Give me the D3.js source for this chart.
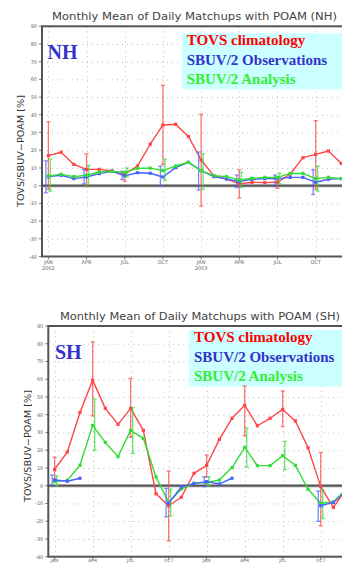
<!DOCTYPE html>
<html><head><meta charset="utf-8">
<script src="https://cdn.jsdelivr.net/npm/d3@7"></script>
<style>body{margin:0;background:#fff;overflow:hidden}svg{display:block}</style>
</head><body>
<script>
// ---- data ----
const months = d3.range(24); // Jan 2002 .. Dec 2003
const xTickMonths = [0,3,6,9,12,15,18,21];
const xTickLabels = ["JAN|2002","APR","JUL","OCT","JAN|2003","APR","JUL","OCT"];
const yTicks = [90,80,70,60,50,40,30,20,10,0,-10,-20,-30,-40];
const legendLabels = ["TOVS climatology","SBUV/2 Observations","SBUV/2 Analysis"];

// NH
const nhTovs = [17,18.9,12,9.2,9.2,8.3,6.5,11,23.4,34.3,34.7,27.8,14.5,5.7,3.8,1,1.9,1.7,1.9,6.6,15.8,17.7,19.6,12.6];
const nhObs  = [5.1,5.9,4,4.9,6.8,8.1,5.5,7.3,7,4.9,10.2,13.2,8.5,5.1,3.8,2.3,3.6,4,4,4.7,4.7,1.9,3.6,4];
const nhAna  = [5.5,6.4,5.1,5.9,7.7,8.1,7.5,9.8,9.9,8.5,11.1,13.2,8.5,5.7,5.1,3.2,4.2,4.7,4.7,6.9,6.9,4,4.7,4];
const errMonths = [0,3,6,9,12,15,18,21];
const nhTovsLo = [-2,0,2.5,12,-11.5,-7,-1.5,-2];
const nhTovsHi = [36,18,8,56.7,40.3,9,5,36.7];
const nhObsLo  = [-4,1,3.5,0,-2.5,-1,-0.5,-5];
const nhObsHi  = [14,9,8,11,19,6,6,9];
const nhAnaLo  = [-3,0.5,5,3,-2,-1,1,-3];
const nhAnaHi  = [15,11.5,10,15,18,7.5,7,11];

// SH
const shTovs = [9.2,19,41.3,59.5,43.6,34.6,43.6,31.2,-4.5,-11.3,-6.5,7,11.5,26.1,38,45.3,33.8,38,43,36.5,21.4,-0.5,-12.2,-2];
const shObs  = [3.2,2.5,4.2,null,null,null,null,null,null,-9.9,-0.7,1.3,2.3,1,4.2,null,null,null,null,null,null,-11.3,-9.4,-3];
const shAna  = [2.3,3,11.5,34,24.4,16.4,31.2,26.7,4.9,-9.4,-1.9,1.3,1.9,3.2,10.2,21.6,11.3,11.3,16.9,11.5,-2,-9.9,-9.2,-2];
const shTovsLo = [4,39.4,27.3,-31,5,28.2,33.3,-22.5];
const shTovsHi = [16,81,60.5,8.3,17.3,56.2,53.4,18.6];
const shObsLo  = [0,null,null,-17.5,-0.5,null,null,-20];
const shObsHi  = [6,null,null,-1.5,5,null,null,-3];
const shAnaLo  = [0,20,18.2,-17,0,10.5,9,-18.5];
const shAnaHi  = [5.5,48.8,44,-2,5,32.5,25,-2.5];

const W = 342, H = 563;
const svg = d3.select("body").append("svg").attr("width",W).attr("height",H);

const lineCol = {tovs:"#ff4545", obs:"#4a62ff", ana:"#33dd33"};
const textCol = ["#ff0000","#3333cc","#33ee33"];

function panel(cfg){
  const g = svg.append("g");
  const x = d3.scaleLinear().domain([-0.5,23.5]).range([cfg.left, cfg.right]);
  const y = d3.scaleLinear().domain([-40,90]).range([cfg.bottom, cfg.top]);
  const clipId = "clip"+cfg.name;
  svg.append("clipPath").attr("id",clipId).append("rect")
    .attr("x",cfg.left).attr("y",cfg.top).attr("width",cfg.right-cfg.left).attr("height",cfg.bottom-cfg.top);

  // title
  g.append("text").attr("x",cfg.titleX).attr("y",cfg.titleY)
    .attr("font-family","DejaVu Sans").attr("font-size",10).attr("fill","#444")
    .attr("textLength",cfg.titleW).attr("lengthAdjust","spacingAndGlyphs")
    .text(`Monthly Mean of Daily Matchups with POAM (${cfg.name})`);

  // grid
  const grid = g.append("g").attr("stroke","#c0c0c0").attr("stroke-width",1).attr("stroke-dasharray","1,4");
  grid.selectAll("line.h").data(yTicks.filter(d=>d!==90&&d!==-40&&d!==0)).join("line")
    .attr("x1",cfg.left).attr("x2",cfg.right).attr("y1",d=>y(d)+0.5).attr("y2",d=>y(d)+0.5);
  grid.selectAll("line.v").data(xTickMonths).join("line")
    .attr("x1",d=>Math.round(x(d))+0.5).attr("x2",d=>Math.round(x(d))+0.5).attr("y1",cfg.top).attr("y2",cfg.bottom);

  // y axis ticks & labels
  const ya = g.append("g");
  ya.selectAll("text").data(yTicks).join("text")
    .attr("x",cfg.left-5).attr("y",d=>y(d)+2).attr("text-anchor","end")
    .attr("font-family","DejaVu Sans").attr("font-size",5).attr("fill","#666")
    .text(d=>d);
  ya.selectAll("line").data(yTicks).join("line")
    .attr("x1",cfg.left-3).attr("x2",cfg.left).attr("y1",d=>y(d)).attr("y2",d=>y(d))
    .attr("stroke","#777").attr("stroke-width",1);

  // x labels
  const xa = g.append("g");
  xTickMonths.forEach((m,i)=>{
    const parts = xTickLabels[i].split("|").slice(0, cfg.yearLines ? 2 : 1);
    parts.forEach((p,j)=>{
      xa.append("text").attr("x",x(m)).attr("y",cfg.bottom+cfg.xlabDy+j*6).attr("text-anchor","middle")
        .attr("font-family","DejaVu Sans").attr("font-size",cfg.xlabFs).attr("fill","#666").text(p);
    });
    xa.append("line").attr("x1",x(m)).attr("x2",x(m)).attr("y1",cfg.bottom).attr("y2",cfg.bottom+3)
      .attr("stroke","#777");
  });

  // y label
  g.append("text").attr("transform",`translate(${cfg.ylabX},${cfg.ylabY}) rotate(-90)`)
    .attr("text-anchor","middle").attr("font-family","DejaVu Sans").attr("font-size",9).attr("fill","#333")
    .attr("textLength",112).attr("lengthAdjust","spacingAndGlyphs")
    .text("TOVS/SBUV\u2212POAM [%]");

  // zero line
  g.append("line").attr("x1",cfg.left).attr("x2",cfg.right).attr("y1",y(0)).attr("y2",y(0))
    .attr("stroke","#888").attr("stroke-width",3);
  g.append("line").attr("x1",cfg.left).attr("x2",cfg.right).attr("y1",y(0)).attr("y2",y(0))
    .attr("stroke","#555").attr("stroke-width",1.2);

  // legend box
  g.append("rect").attr("x",cfg.legX).attr("y",cfg.legY).attr("width",W-cfg.legX).attr("height",cfg.legH)
    .attr("fill","#ccffff");
  legendLabels.forEach((t,i)=>{
    g.append("text").attr("x",cfg.legX+5).attr("y",cfg.legY+12+i*19.5)
      .attr("font-family","Liberation Serif").attr("font-weight","bold").attr("font-size",15)
      .attr("fill",textCol[i]).text(t);
  });
  g.append("text").attr("x",cfg.hemX).attr("y",cfg.hemY)
    .attr("font-family","Liberation Serif").attr("font-weight","bold").attr("font-size",20)
    .attr("fill","#3333cc").text(cfg.name);

  // series
  const plot = g.append("g").attr("clip-path",`url(#${clipId})`);
  const series = [
    {v:cfg.tovs, c:lineCol.tovs, lo:cfg.tovsLo, hi:cfg.tovsHi, dx:0},
    {v:cfg.obs,  c:lineCol.obs,  lo:cfg.obsLo,  hi:cfg.obsHi,  dx:-2.5},
    {v:cfg.ana,  c:lineCol.ana,  lo:cfg.anaLo,  hi:cfg.anaHi,  dx:2}
  ];
  const order = cfg.name==="NH" ? [0,1,2] : [0,2,1];
  order.forEach(k=>{
    const s = series[k];
    const line = d3.line().defined(d=>d!=null).x((d,i)=>x(months[i])).y(d=>y(d));
    plot.append("path").datum(s.v).attr("d",line).attr("fill","none")
      .attr("stroke",s.c).attr("stroke-width",1.4).attr("stroke-linejoin","round");
    // error bars
    errMonths.forEach((m,i)=>{
      if (s.lo[i]==null) return;
      const xx = x(m)+s.dx;
      const eb = plot.append("g").attr("stroke",s.c).attr("stroke-width",1.3).attr("opacity",0.75);
      eb.append("line").attr("x1",xx).attr("x2",xx).attr("y1",y(s.lo[i])).attr("y2",y(s.hi[i]));
      eb.append("line").attr("x1",xx-2).attr("x2",xx+2).attr("y1",y(s.lo[i])).attr("y2",y(s.lo[i]));
      eb.append("line").attr("x1",xx-2).attr("x2",xx+2).attr("y1",y(s.hi[i])).attr("y2",y(s.hi[i]));
    });
    plot.selectAll(null).data(s.v.map((d,i)=>({d,i})).filter(o=>o.d!=null)).join("rect")
      .attr("x",o=>x(months[o.i])-1.6).attr("y",o=>y(o.d)-1.6).attr("width",3.2).attr("height",3.2)
      .attr("fill",s.c);
  });

  // frame
  g.append("rect").attr("x",cfg.left).attr("y",cfg.top).attr("width",cfg.right-cfg.left).attr("height",cfg.bottom-cfg.top)
    .attr("fill","none").attr("stroke","#555").attr("stroke-width",2);
}

panel({name:"NH", left:42, right:347.5, top:26.3, bottom:256.5,
  titleX:52, titleY:20, titleW:285, ylabX:24, ylabY:151,
  legX:181.7, legY:33.3, legH:56, hemX:47.5, hemY:59,
  yearLines:true, xlabDy:7, xlabFs:5,
  tovs:nhTovs, obs:nhObs, ana:nhAna,
  tovsLo:nhTovsLo, tovsHi:nhTovsHi, obsLo:nhObsLo, obsHi:nhObsHi, anaLo:nhAnaLo, anaHi:nhAnaHi});

panel({name:"SH", left:48.3, right:352.4, top:326, bottom:556.7,
  titleX:60, titleY:320, titleW:280, ylabX:31, ylabY:446,
  legX:189, legY:330, legH:56.7, hemX:55, hemY:358.5,
  yearLines:false, xlabDy:5, xlabFs:4.5,
  tovs:shTovs, obs:shObs, ana:shAna,
  tovsLo:shTovsLo, tovsHi:shTovsHi, obsLo:shObsLo, obsHi:shObsHi, anaLo:shAnaLo, anaHi:shAnaHi});
</script>
</body></html>
